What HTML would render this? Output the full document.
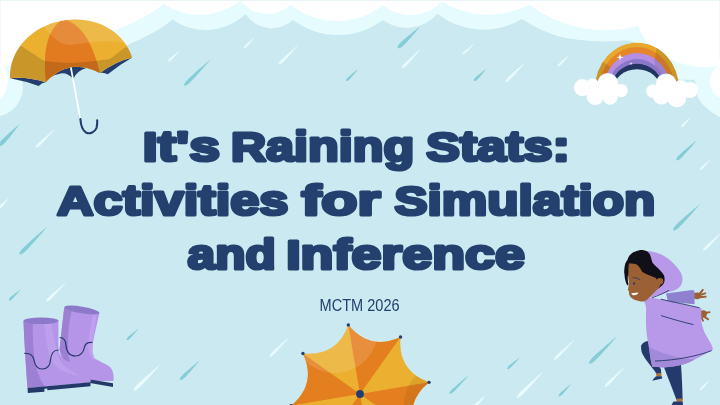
<!DOCTYPE html>
<html><head><meta charset="utf-8">
<style>
html,body{margin:0;padding:0;}
body{width:720px;height:405px;overflow:hidden;position:relative;background:#cbe9f0;font-family:"Liberation Sans",sans-serif;}
svg.bg{position:absolute;left:0;top:0;}
</style></head><body>
<svg class="bg" width="720" height="405" viewBox="0 0 720 405">
<path fill="#e8fbfd" d="M168.21 61.56 L169.16 61.61 L169.79 61.32 L170.35 60.96 L170.87 60.55 L171.36 60.11 L171.82 59.64 L172.27 59.17 L172.72 58.69 L173.17 58.21 L173.61 57.72 L174.05 57.24 L174.49 56.75 L174.93 56.26 L175.37 55.76 L175.80 55.27 L176.23 54.77 L176.66 54.27 L177.09 53.77 L177.52 53.27 L177.95 52.77 L178.37 52.26 L178.79 51.76 L179.22 51.25 L179.64 50.74 L179.56 50.66 L179.03 51.06 L178.51 51.45 L177.98 51.85 L177.46 52.26 L176.94 52.66 L176.41 53.06 L175.90 53.47 L175.38 53.87 L174.86 54.28 L174.34 54.69 L173.83 55.10 L173.32 55.52 L172.81 55.93 L172.30 56.35 L171.80 56.77 L171.30 57.19 L170.80 57.62 L170.30 58.05 L169.81 58.49 L169.35 58.95 L168.92 59.45 L168.53 60.00 L168.22 60.62 L168.21 61.56 Z"/>
<path fill="#84cdd6" d="M184.02 85.77 L185.90 85.48 L187.25 84.65 L188.48 83.72 L189.65 82.71 L190.76 81.65 L191.83 80.54 L192.88 79.43 L193.93 78.30 L194.98 77.18 L196.02 76.04 L197.05 74.91 L198.09 73.77 L199.11 72.62 L200.14 71.47 L201.16 70.32 L202.18 69.17 L203.20 68.02 L204.22 66.86 L205.23 65.70 L206.24 64.54 L207.25 63.37 L208.26 62.20 L209.26 61.04 L210.26 59.86 L210.14 59.74 L208.96 60.73 L207.78 61.72 L206.61 62.72 L205.43 63.72 L204.26 64.72 L203.10 65.73 L201.93 66.73 L200.77 67.74 L199.60 68.75 L198.45 69.77 L197.29 70.78 L196.14 71.80 L194.99 72.83 L193.84 73.85 L192.70 74.88 L191.57 75.92 L190.44 76.96 L189.31 78.01 L188.20 79.07 L187.12 80.17 L186.11 81.33 L185.16 82.56 L184.33 83.90 L184.02 85.77 Z"/>
<path fill="#84cdd6" d="M-0.86 145.92 L0.92 145.90 L2.07 145.28 L3.09 144.55 L4.03 143.73 L4.89 142.85 L5.71 141.92 L6.51 140.98 L7.31 140.04 L8.10 139.09 L8.88 138.13 L9.66 137.17 L10.43 136.20 L11.20 135.23 L11.97 134.26 L12.73 133.28 L13.49 132.30 L14.25 131.32 L15.01 130.33 L15.76 129.35 L16.51 128.36 L17.25 127.36 L18.00 126.37 L18.74 125.37 L19.48 124.37 L19.32 124.23 L18.37 125.03 L17.43 125.84 L16.48 126.64 L15.54 127.45 L14.60 128.26 L13.66 129.08 L12.73 129.89 L11.80 130.71 L10.87 131.53 L9.95 132.36 L9.02 133.19 L8.11 134.02 L7.19 134.85 L6.28 135.69 L5.38 136.54 L4.48 137.39 L3.59 138.24 L2.70 139.11 L1.83 139.98 L1.00 140.90 L0.25 141.89 L-0.42 142.95 L-0.95 144.14 L-0.86 145.92 Z"/>
<path fill="#e8fbfd" d="M35.70 147.69 L37.11 147.51 L38.12 146.92 L39.04 146.24 L39.91 145.51 L40.74 144.73 L41.53 143.92 L42.32 143.11 L43.10 142.28 L43.88 141.46 L44.65 140.63 L45.42 139.79 L46.19 138.95 L46.96 138.12 L47.72 137.27 L48.48 136.43 L49.24 135.58 L50.00 134.74 L50.75 133.89 L51.51 133.03 L52.26 132.18 L53.01 131.33 L53.76 130.47 L54.50 129.61 L55.25 128.75 L55.15 128.65 L54.27 129.37 L53.39 130.10 L52.52 130.82 L51.64 131.55 L50.77 132.28 L49.90 133.01 L49.03 133.74 L48.16 134.47 L47.29 135.21 L46.43 135.95 L45.57 136.69 L44.71 137.43 L43.85 138.18 L43.00 138.93 L42.15 139.68 L41.30 140.43 L40.45 141.19 L39.62 141.96 L38.79 142.73 L37.99 143.53 L37.23 144.38 L36.53 145.29 L35.91 146.28 L35.70 147.69 Z"/>
<path fill="#e8fbfd" d="M-2.60 209.59 L-1.51 209.72 L-0.83 209.44 L-0.23 209.08 L0.32 208.66 L0.82 208.19 L1.29 207.70 L1.75 207.19 L2.21 206.68 L2.66 206.17 L3.11 205.65 L3.55 205.13 L4.00 204.60 L4.44 204.08 L4.87 203.55 L5.31 203.02 L5.74 202.48 L6.17 201.95 L6.60 201.41 L7.03 200.87 L7.46 200.33 L7.88 199.79 L8.31 199.24 L8.73 198.70 L9.15 198.15 L9.05 198.05 L8.50 198.46 L7.94 198.87 L7.39 199.29 L6.84 199.70 L6.29 200.12 L5.75 200.53 L5.20 200.95 L4.66 201.38 L4.12 201.80 L3.58 202.23 L3.04 202.66 L2.51 203.09 L1.97 203.52 L1.44 203.96 L0.92 204.39 L0.40 204.84 L-0.12 205.28 L-0.64 205.74 L-1.14 206.20 L-1.62 206.69 L-2.05 207.23 L-2.42 207.82 L-2.71 208.50 L-2.60 209.59 Z"/>
<path fill="#84cdd6" d="M19.37 254.53 L21.35 254.24 L22.77 253.38 L24.07 252.40 L25.29 251.34 L26.45 250.22 L27.56 249.06 L28.66 247.88 L29.76 246.70 L30.85 245.51 L31.93 244.32 L33.01 243.12 L34.09 241.92 L35.16 240.71 L36.23 239.50 L37.29 238.29 L38.36 237.08 L39.42 235.86 L40.47 234.64 L41.53 233.42 L42.58 232.19 L43.63 230.96 L44.68 229.73 L45.73 228.50 L46.77 227.27 L46.63 227.13 L45.40 228.17 L44.17 229.22 L42.94 230.27 L41.71 231.32 L40.48 232.37 L39.26 233.43 L38.04 234.48 L36.82 235.54 L35.61 236.61 L34.40 237.67 L33.19 238.74 L31.98 239.81 L30.78 240.89 L29.58 241.97 L28.39 243.05 L27.20 244.14 L26.02 245.24 L24.84 246.34 L23.68 247.45 L22.56 248.61 L21.50 249.83 L20.52 251.13 L19.66 252.55 L19.37 254.53 Z"/>
<path fill="#84cdd6" d="M9.05 300.32 L10.06 300.42 L10.72 300.15 L11.30 299.80 L11.84 299.40 L12.34 298.96 L12.81 298.49 L13.27 298.01 L13.73 297.53 L14.18 297.04 L14.63 296.55 L15.08 296.05 L15.53 295.56 L15.97 295.06 L16.41 294.56 L16.85 294.05 L17.29 293.55 L17.73 293.04 L18.16 292.53 L18.60 292.02 L19.03 291.51 L19.46 291.00 L19.89 290.48 L20.32 289.96 L20.74 289.45 L20.66 289.35 L20.11 289.75 L19.57 290.14 L19.03 290.53 L18.49 290.93 L17.95 291.33 L17.41 291.73 L16.87 292.13 L16.34 292.53 L15.81 292.93 L15.28 293.34 L14.75 293.75 L14.22 294.16 L13.70 294.57 L13.17 294.99 L12.65 295.41 L12.14 295.83 L11.62 296.26 L11.12 296.69 L10.62 297.12 L10.14 297.59 L9.71 298.10 L9.32 298.66 L9.01 299.30 L9.05 300.32 Z"/>
<path fill="#e8fbfd" d="M46.10 301.68 L47.52 301.50 L48.55 300.89 L49.50 300.21 L50.39 299.46 L51.23 298.67 L52.05 297.85 L52.86 297.02 L53.66 296.19 L54.46 295.35 L55.25 294.50 L56.05 293.66 L56.84 292.81 L57.62 291.95 L58.41 291.10 L59.19 290.24 L59.97 289.39 L60.75 288.52 L61.52 287.66 L62.30 286.80 L63.07 285.93 L63.84 285.06 L64.61 284.19 L65.38 283.32 L66.15 282.45 L66.05 282.35 L65.15 283.08 L64.25 283.82 L63.36 284.56 L62.46 285.30 L61.57 286.04 L60.67 286.78 L59.78 287.52 L58.89 288.27 L58.01 289.02 L57.12 289.77 L56.24 290.52 L55.36 291.28 L54.48 292.03 L53.61 292.79 L52.74 293.56 L51.87 294.33 L51.00 295.10 L50.14 295.87 L49.29 296.66 L48.47 297.48 L47.70 298.34 L46.97 299.26 L46.34 300.26 L46.10 301.68 Z"/>
<path fill="#84cdd6" d="M126.76 340.03 L127.78 340.11 L128.43 339.82 L129.01 339.46 L129.54 339.04 L130.02 338.59 L130.49 338.10 L130.94 337.61 L131.39 337.12 L131.83 336.62 L132.27 336.11 L132.71 335.61 L133.15 335.10 L133.58 334.59 L134.02 334.07 L134.45 333.56 L134.88 333.04 L135.30 332.52 L135.73 332.00 L136.15 331.48 L136.57 330.95 L136.99 330.43 L137.41 329.90 L137.83 329.37 L138.24 328.84 L138.16 328.76 L137.62 329.16 L137.08 329.57 L136.55 329.98 L136.02 330.39 L135.48 330.80 L134.95 331.21 L134.43 331.63 L133.90 332.05 L133.37 332.46 L132.85 332.88 L132.33 333.31 L131.81 333.73 L131.29 334.16 L130.78 334.59 L130.27 335.02 L129.76 335.46 L129.25 335.90 L128.75 336.34 L128.26 336.79 L127.80 337.27 L127.37 337.79 L127.00 338.36 L126.70 339.01 L126.76 340.03 Z"/>
<path fill="#e8fbfd" d="M133.52 390.76 L135.42 390.46 L136.80 389.61 L138.07 388.66 L139.27 387.64 L140.41 386.55 L141.51 385.42 L142.61 384.29 L143.69 383.14 L144.77 381.99 L145.84 380.84 L146.91 379.68 L147.98 378.52 L149.04 377.35 L150.10 376.19 L151.16 375.01 L152.21 373.84 L153.26 372.66 L154.31 371.48 L155.36 370.30 L156.40 369.12 L157.45 367.93 L158.49 366.75 L159.53 365.56 L160.56 364.36 L160.44 364.24 L159.22 365.25 L158.02 366.26 L156.81 367.28 L155.60 368.30 L154.40 369.32 L153.20 370.35 L152.00 371.37 L150.80 372.40 L149.61 373.43 L148.42 374.47 L147.23 375.51 L146.04 376.55 L144.86 377.59 L143.68 378.64 L142.51 379.69 L141.34 380.74 L140.17 381.81 L139.02 382.87 L137.87 383.95 L136.76 385.07 L135.71 386.25 L134.73 387.50 L133.87 388.87 L133.52 390.76 Z"/>
<path fill="#84cdd6" d="M179.79 380.21 L181.33 380.12 L182.39 379.53 L183.35 378.85 L184.24 378.10 L185.08 377.29 L185.88 376.45 L186.67 375.60 L187.45 374.74 L188.23 373.87 L189.01 373.01 L189.78 372.13 L190.55 371.26 L191.31 370.38 L192.07 369.50 L192.83 368.61 L193.59 367.73 L194.34 366.84 L195.09 365.95 L195.84 365.05 L196.59 364.16 L197.33 363.26 L198.08 362.36 L198.82 361.46 L199.56 360.56 L199.44 360.44 L198.54 361.18 L197.64 361.92 L196.74 362.67 L195.84 363.41 L194.95 364.16 L194.05 364.91 L193.16 365.66 L192.27 366.41 L191.39 367.17 L190.50 367.93 L189.62 368.69 L188.74 369.45 L187.87 370.22 L186.99 370.99 L186.13 371.77 L185.26 372.55 L184.40 373.33 L183.55 374.12 L182.71 374.92 L181.90 375.76 L181.15 376.65 L180.47 377.61 L179.88 378.67 L179.79 380.21 Z"/>
<path fill="#e8fbfd" d="M269.41 356.89 L270.84 356.67 L271.87 356.04 L272.81 355.32 L273.70 354.55 L274.54 353.74 L275.35 352.89 L276.15 352.04 L276.95 351.18 L277.74 350.31 L278.53 349.44 L279.32 348.57 L280.10 347.70 L280.89 346.82 L281.67 345.94 L282.44 345.06 L283.22 344.18 L283.99 343.29 L284.76 342.41 L285.53 341.52 L286.30 340.63 L287.06 339.74 L287.83 338.84 L288.59 337.95 L289.35 337.05 L289.25 336.95 L288.35 337.71 L287.46 338.47 L286.56 339.24 L285.67 340.00 L284.78 340.77 L283.89 341.54 L283.01 342.31 L282.12 343.08 L281.24 343.86 L280.36 344.63 L279.48 345.41 L278.60 346.20 L277.73 346.98 L276.86 347.77 L275.99 348.56 L275.12 349.35 L274.26 350.15 L273.41 350.95 L272.56 351.76 L271.75 352.60 L270.98 353.49 L270.26 354.43 L269.63 355.46 L269.41 356.89 Z"/>
<path fill="#e8fbfd" d="M243.86 48.25 L244.76 48.25 L245.36 47.94 L245.89 47.58 L246.38 47.17 L246.84 46.73 L247.27 46.26 L247.70 45.79 L248.13 45.31 L248.55 44.84 L248.97 44.35 L249.38 43.87 L249.79 43.38 L250.21 42.90 L250.62 42.41 L251.02 41.92 L251.43 41.42 L251.84 40.93 L252.24 40.44 L252.64 39.94 L253.04 39.44 L253.44 38.94 L253.84 38.44 L254.24 37.94 L254.64 37.44 L254.56 37.36 L254.06 37.76 L253.57 38.17 L253.07 38.57 L252.57 38.98 L252.08 39.38 L251.59 39.79 L251.10 40.20 L250.61 40.61 L250.12 41.02 L249.63 41.43 L249.15 41.85 L248.66 42.26 L248.18 42.68 L247.70 43.10 L247.22 43.52 L246.75 43.95 L246.28 44.38 L245.81 44.81 L245.35 45.25 L244.91 45.71 L244.51 46.21 L244.15 46.74 L243.85 47.34 L243.86 48.25 Z"/>
<path fill="#e8fbfd" d="M278.60 64.49 L280.02 64.30 L281.03 63.69 L281.96 63.00 L282.84 62.26 L283.66 61.47 L284.46 60.65 L285.25 59.82 L286.04 58.98 L286.82 58.14 L287.60 57.30 L288.37 56.45 L289.15 55.60 L289.92 54.75 L290.68 53.90 L291.45 53.04 L292.21 52.18 L292.97 51.32 L293.73 50.46 L294.49 49.60 L295.24 48.73 L296.00 47.86 L296.75 46.99 L297.50 46.12 L298.25 45.25 L298.15 45.15 L297.27 45.89 L296.38 46.62 L295.50 47.36 L294.62 48.10 L293.75 48.84 L292.87 49.59 L292.00 50.33 L291.12 51.08 L290.25 51.83 L289.38 52.58 L288.52 53.33 L287.65 54.09 L286.79 54.85 L285.94 55.61 L285.08 56.37 L284.23 57.14 L283.38 57.91 L282.54 58.69 L281.70 59.47 L280.90 60.29 L280.14 61.15 L279.44 62.07 L278.82 63.08 L278.60 64.49 Z"/>
<path fill="#84cdd6" d="M397.79 48.07 L399.58 48.13 L400.77 47.57 L401.84 46.88 L402.83 46.10 L403.75 45.26 L404.62 44.36 L405.48 43.46 L406.34 42.55 L407.19 41.63 L408.03 40.70 L408.87 39.77 L409.70 38.84 L410.53 37.90 L411.36 36.96 L412.18 36.01 L413.00 35.06 L413.82 34.11 L414.64 33.16 L415.45 32.20 L416.26 31.24 L417.06 30.28 L417.87 29.31 L418.67 28.35 L419.47 27.38 L419.33 27.22 L418.33 27.99 L417.33 28.75 L416.33 29.52 L415.34 30.29 L414.35 31.06 L413.36 31.83 L412.37 32.61 L411.39 33.39 L410.41 34.17 L409.43 34.96 L408.46 35.74 L407.49 36.54 L406.52 37.33 L405.56 38.13 L404.60 38.94 L403.65 39.75 L402.71 40.57 L401.77 41.40 L400.84 42.23 L399.96 43.12 L399.14 44.07 L398.41 45.11 L397.80 46.28 L397.79 48.07 Z"/>
<path fill="#e8fbfd" d="M401.51 68.60 L402.94 68.36 L403.97 67.72 L404.90 67.00 L405.78 66.22 L406.61 65.39 L407.41 64.54 L408.21 63.67 L409.00 62.80 L409.78 61.93 L410.56 61.06 L411.34 60.18 L412.12 59.29 L412.89 58.41 L413.66 57.52 L414.43 56.63 L415.19 55.74 L415.95 54.85 L416.72 53.95 L417.48 53.06 L418.23 52.16 L418.99 51.26 L419.74 50.36 L420.50 49.45 L421.25 48.55 L421.15 48.45 L420.26 49.22 L419.37 49.99 L418.49 50.77 L417.60 51.54 L416.72 52.32 L415.84 53.10 L414.96 53.88 L414.08 54.66 L413.21 55.44 L412.34 56.23 L411.47 57.02 L410.60 57.81 L409.73 58.60 L408.87 59.39 L408.01 60.19 L407.15 61.00 L406.30 61.80 L405.45 62.61 L404.62 63.43 L403.81 64.28 L403.05 65.18 L402.34 66.13 L401.72 67.16 L401.51 68.60 Z"/>
<path fill="#84cdd6" d="M346.27 80.93 L347.30 80.99 L347.97 80.68 L348.56 80.29 L349.10 79.86 L349.60 79.38 L350.07 78.87 L350.54 78.36 L351.00 77.85 L351.46 77.32 L351.91 76.80 L352.36 76.27 L352.81 75.74 L353.26 75.21 L353.70 74.68 L354.14 74.14 L354.58 73.60 L355.02 73.06 L355.46 72.52 L355.89 71.98 L356.32 71.44 L356.76 70.89 L357.19 70.34 L357.62 69.79 L358.04 69.24 L357.96 69.16 L357.41 69.58 L356.86 70.01 L356.31 70.44 L355.76 70.88 L355.22 71.31 L354.68 71.74 L354.14 72.18 L353.60 72.62 L353.06 73.06 L352.52 73.50 L351.99 73.94 L351.46 74.39 L350.93 74.84 L350.40 75.29 L349.88 75.74 L349.35 76.20 L348.84 76.66 L348.33 77.13 L347.82 77.60 L347.34 78.10 L346.91 78.64 L346.52 79.23 L346.21 79.90 L346.27 80.93 Z"/>
<path fill="#e8fbfd" d="M462.84 54.13 L463.76 54.15 L464.39 53.85 L464.96 53.49 L465.49 53.08 L465.98 52.64 L466.45 52.18 L466.92 51.70 L467.38 51.23 L467.85 50.75 L468.30 50.27 L468.76 49.78 L469.21 49.30 L469.66 48.81 L470.11 48.32 L470.56 47.83 L471.01 47.34 L471.45 46.84 L471.90 46.34 L472.34 45.85 L472.78 45.35 L473.22 44.85 L473.66 44.35 L474.10 43.84 L474.54 43.34 L474.46 43.26 L473.93 43.66 L473.40 44.06 L472.86 44.46 L472.33 44.86 L471.80 45.27 L471.27 45.67 L470.74 46.08 L470.22 46.48 L469.69 46.89 L469.17 47.30 L468.65 47.72 L468.13 48.13 L467.61 48.55 L467.09 48.96 L466.58 49.39 L466.07 49.81 L465.56 50.24 L465.05 50.67 L464.55 51.10 L464.08 51.57 L463.63 52.06 L463.23 52.60 L462.89 53.21 L462.84 54.13 Z"/>
<path fill="#84cdd6" d="M473.90 80.99 L475.00 81.11 L475.70 80.82 L476.31 80.44 L476.87 80.01 L477.38 79.53 L477.86 79.02 L478.34 78.50 L478.81 77.98 L479.27 77.45 L479.73 76.92 L480.19 76.39 L480.65 75.85 L481.10 75.31 L481.55 74.77 L482.00 74.23 L482.44 73.68 L482.89 73.13 L483.33 72.58 L483.77 72.03 L484.21 71.48 L484.65 70.92 L485.08 70.37 L485.52 69.81 L485.95 69.25 L485.85 69.15 L485.28 69.57 L484.72 70.00 L484.15 70.42 L483.59 70.85 L483.03 71.28 L482.47 71.71 L481.91 72.14 L481.36 72.58 L480.80 73.01 L480.25 73.45 L479.70 73.89 L479.16 74.34 L478.61 74.78 L478.07 75.23 L477.53 75.68 L477.00 76.14 L476.46 76.60 L475.94 77.06 L475.42 77.54 L474.93 78.04 L474.49 78.59 L474.10 79.20 L473.80 79.89 L473.90 80.99 Z"/>
<path fill="#e8fbfd" d="M505.50 81.99 L506.94 81.77 L507.97 81.15 L508.92 80.44 L509.81 79.67 L510.65 78.86 L511.47 78.02 L512.28 77.17 L513.08 76.31 L513.88 75.45 L514.67 74.59 L515.46 73.72 L516.25 72.85 L517.04 71.98 L517.82 71.10 L518.60 70.23 L519.38 69.35 L520.16 68.47 L520.93 67.58 L521.71 66.70 L522.48 65.81 L523.25 64.92 L524.02 64.03 L524.78 63.14 L525.55 62.25 L525.45 62.15 L524.55 62.91 L523.65 63.66 L522.75 64.42 L521.86 65.19 L520.96 65.95 L520.07 66.71 L519.18 67.48 L518.29 68.25 L517.40 69.02 L516.52 69.79 L515.63 70.56 L514.75 71.34 L513.88 72.12 L513.00 72.90 L512.13 73.69 L511.26 74.48 L510.40 75.27 L509.54 76.07 L508.69 76.87 L507.86 77.71 L507.09 78.59 L506.37 79.53 L505.73 80.56 L505.50 81.99 Z"/>
<path fill="#e8fbfd" d="M557.65 66.34 L558.59 66.31 L559.24 65.98 L559.83 65.58 L560.37 65.14 L560.89 64.67 L561.38 64.17 L561.86 63.66 L562.34 63.16 L562.81 62.64 L563.29 62.13 L563.76 61.61 L564.23 61.09 L564.69 60.57 L565.16 60.05 L565.62 59.52 L566.09 59.00 L566.55 58.47 L567.01 57.94 L567.46 57.41 L567.92 56.88 L568.38 56.34 L568.83 55.81 L569.28 55.27 L569.74 54.74 L569.66 54.66 L569.11 55.10 L568.56 55.53 L568.01 55.97 L567.46 56.40 L566.91 56.84 L566.37 57.28 L565.82 57.72 L565.28 58.16 L564.74 58.60 L564.20 59.05 L563.66 59.50 L563.12 59.95 L562.58 60.40 L562.05 60.85 L561.52 61.30 L560.99 61.76 L560.47 62.22 L559.95 62.69 L559.43 63.16 L558.94 63.65 L558.48 64.18 L558.06 64.75 L557.70 65.39 L557.65 66.34 Z"/>
<path fill="#e8fbfd" d="M681.16 127.15 L682.04 127.17 L682.61 126.88 L683.12 126.54 L683.58 126.15 L684.01 125.73 L684.41 125.28 L684.81 124.83 L685.20 124.38 L685.59 123.92 L685.98 123.46 L686.37 123.00 L686.75 122.53 L687.14 122.06 L687.52 121.60 L687.89 121.13 L688.27 120.66 L688.65 120.18 L689.02 119.71 L689.39 119.23 L689.76 118.76 L690.13 118.28 L690.50 117.80 L690.87 117.32 L691.24 116.84 L691.16 116.76 L690.69 117.14 L690.22 117.53 L689.76 117.91 L689.29 118.30 L688.82 118.68 L688.36 119.07 L687.90 119.46 L687.44 119.85 L686.98 120.24 L686.52 120.63 L686.06 121.02 L685.61 121.42 L685.16 121.82 L684.71 122.22 L684.26 122.62 L683.81 123.03 L683.37 123.44 L682.93 123.85 L682.50 124.27 L682.09 124.71 L681.72 125.18 L681.39 125.70 L681.12 126.27 L681.16 127.15 Z"/>
<path fill="#84cdd6" d="M676.25 160.33 L677.83 160.28 L678.92 159.71 L679.90 159.04 L680.81 158.30 L681.67 157.49 L682.48 156.65 L683.29 155.80 L684.09 154.95 L684.89 154.08 L685.68 153.21 L686.47 152.34 L687.25 151.47 L688.03 150.59 L688.81 149.71 L689.59 148.82 L690.36 147.94 L691.13 147.05 L691.90 146.16 L692.66 145.26 L693.43 144.37 L694.19 143.47 L694.95 142.57 L695.71 141.67 L696.46 140.76 L696.34 140.64 L695.42 141.37 L694.49 142.10 L693.57 142.84 L692.66 143.58 L691.74 144.32 L690.83 145.06 L689.92 145.80 L689.01 146.55 L688.10 147.30 L687.20 148.05 L686.29 148.81 L685.40 149.56 L684.50 150.33 L683.61 151.09 L682.72 151.86 L681.84 152.63 L680.96 153.41 L680.09 154.20 L679.23 154.99 L678.40 155.82 L677.63 156.72 L676.94 157.68 L676.34 158.75 L676.25 160.33 Z"/>
<path fill="#e8fbfd" d="M699.85 169.94 L700.76 169.95 L701.37 169.65 L701.91 169.28 L702.42 168.87 L702.89 168.43 L703.33 167.97 L703.77 167.49 L704.21 167.02 L704.65 166.54 L705.08 166.06 L705.51 165.58 L705.93 165.09 L706.36 164.60 L706.78 164.11 L707.20 163.62 L707.62 163.13 L708.04 162.63 L708.46 162.14 L708.88 161.64 L709.29 161.14 L709.70 160.64 L710.12 160.14 L710.53 159.64 L710.94 159.14 L710.86 159.06 L710.35 159.46 L709.84 159.86 L709.33 160.27 L708.83 160.67 L708.32 161.08 L707.82 161.48 L707.31 161.89 L706.81 162.30 L706.31 162.71 L705.81 163.12 L705.31 163.54 L704.82 163.95 L704.32 164.37 L703.83 164.79 L703.34 165.21 L702.86 165.64 L702.37 166.06 L701.89 166.50 L701.42 166.93 L700.97 167.40 L700.55 167.89 L700.17 168.43 L699.86 169.03 L699.85 169.94 Z"/>
<path fill="#84cdd6" d="M673.06 230.52 L675.01 230.29 L676.40 229.47 L677.68 228.54 L678.87 227.53 L680.00 226.46 L681.09 225.34 L682.17 224.21 L683.24 223.07 L684.30 221.93 L685.36 220.78 L686.42 219.63 L687.47 218.47 L688.52 217.31 L689.57 216.15 L690.61 214.98 L691.65 213.82 L692.68 212.64 L693.72 211.47 L694.75 210.29 L695.78 209.11 L696.80 207.93 L697.83 206.74 L698.85 205.56 L699.87 204.37 L699.73 204.23 L698.52 205.23 L697.32 206.23 L696.11 207.23 L694.91 208.23 L693.71 209.24 L692.51 210.24 L691.32 211.25 L690.13 212.27 L688.94 213.28 L687.75 214.30 L686.57 215.32 L685.39 216.35 L684.21 217.38 L683.04 218.41 L681.87 219.45 L680.71 220.49 L679.55 221.54 L678.40 222.60 L677.26 223.66 L676.16 224.77 L675.13 225.95 L674.17 227.20 L673.34 228.58 L673.06 230.52 Z"/>
<path fill="#e8fbfd" d="M703.10 250.69 L704.49 250.52 L705.47 249.95 L706.37 249.29 L707.22 248.58 L708.02 247.81 L708.79 247.02 L709.55 246.22 L710.31 245.41 L711.06 244.60 L711.81 243.79 L712.55 242.97 L713.30 242.15 L714.04 241.33 L714.77 240.51 L715.51 239.68 L716.24 238.85 L716.98 238.02 L717.71 237.18 L718.43 236.35 L719.16 235.51 L719.88 234.67 L720.61 233.83 L721.33 232.99 L722.05 232.15 L721.95 232.05 L721.10 232.76 L720.24 233.46 L719.39 234.17 L718.54 234.88 L717.69 235.60 L716.85 236.31 L716.00 237.03 L715.16 237.74 L714.32 238.46 L713.48 239.19 L712.64 239.91 L711.81 240.64 L710.97 241.37 L710.14 242.10 L709.32 242.83 L708.49 243.57 L707.68 244.31 L706.86 245.06 L706.06 245.82 L705.28 246.61 L704.55 247.44 L703.88 248.33 L703.29 249.30 L703.10 250.69 Z"/>
<path fill="#e8fbfd" d="M554.00 359.89 L555.44 359.67 L556.47 359.05 L557.42 358.34 L558.32 357.57 L559.17 356.76 L559.99 355.92 L560.80 355.07 L561.61 354.21 L562.41 353.35 L563.21 352.49 L564.00 351.62 L564.80 350.75 L565.59 349.88 L566.37 349.00 L567.16 348.13 L567.94 347.25 L568.73 346.37 L569.51 345.48 L570.28 344.60 L571.06 343.71 L571.83 342.82 L572.61 341.93 L573.38 341.04 L574.15 340.15 L574.05 340.05 L573.15 340.81 L572.24 341.56 L571.34 342.32 L570.44 343.08 L569.54 343.85 L568.65 344.61 L567.75 345.38 L566.86 346.14 L565.97 346.91 L565.08 347.69 L564.19 348.46 L563.30 349.24 L562.42 350.02 L561.54 350.80 L560.67 351.58 L559.79 352.37 L558.93 353.17 L558.06 353.96 L557.21 354.77 L556.38 355.61 L555.60 356.49 L554.88 357.43 L554.24 358.46 L554.00 359.89 Z"/>
<path fill="#84cdd6" d="M507.24 369.01 L508.28 369.11 L508.96 368.82 L509.57 368.46 L510.13 368.04 L510.65 367.58 L511.15 367.09 L511.63 366.60 L512.12 366.10 L512.60 365.59 L513.08 365.08 L513.55 364.57 L514.02 364.06 L514.49 363.54 L514.96 363.03 L515.42 362.51 L515.89 361.98 L516.35 361.46 L516.81 360.93 L517.27 360.41 L517.73 359.88 L518.18 359.35 L518.64 358.81 L519.09 358.28 L519.54 357.75 L519.46 357.65 L518.89 358.06 L518.32 358.47 L517.75 358.88 L517.19 359.29 L516.62 359.71 L516.06 360.12 L515.50 360.54 L514.94 360.96 L514.38 361.38 L513.83 361.80 L513.27 362.23 L512.72 362.65 L512.17 363.08 L511.63 363.51 L511.08 363.95 L510.54 364.39 L510.00 364.83 L509.47 365.28 L508.94 365.73 L508.44 366.21 L507.98 366.74 L507.57 367.32 L507.23 367.98 L507.24 369.01 Z"/>
<path fill="#e8fbfd" d="M516.86 397.94 L518.71 397.60 L520.06 396.75 L521.30 395.80 L522.47 394.77 L523.58 393.69 L524.66 392.57 L525.72 391.44 L526.78 390.30 L527.83 389.16 L528.88 388.02 L529.93 386.86 L530.97 385.71 L532.01 384.55 L533.04 383.39 L534.07 382.23 L535.10 381.07 L536.13 379.90 L537.16 378.73 L538.18 377.55 L539.20 376.38 L540.22 375.20 L541.23 374.02 L542.25 372.84 L543.26 371.66 L543.14 371.54 L541.96 372.55 L540.78 373.57 L539.60 374.58 L538.42 375.60 L537.25 376.62 L536.07 377.64 L534.90 378.67 L533.73 379.70 L532.57 380.73 L531.41 381.76 L530.25 382.79 L529.09 383.83 L527.94 384.87 L526.78 385.92 L525.64 386.97 L524.50 388.02 L523.36 389.08 L522.23 390.14 L521.11 391.22 L520.03 392.33 L519.00 393.50 L518.05 394.74 L517.20 396.09 L516.86 397.94 Z"/>
<path fill="#84cdd6" d="M558.77 396.23 L559.82 396.27 L560.51 395.94 L561.12 395.53 L561.68 395.07 L562.20 394.58 L562.70 394.05 L563.18 393.52 L563.67 392.98 L564.14 392.44 L564.62 391.89 L565.09 391.34 L565.56 390.79 L566.03 390.24 L566.49 389.69 L566.95 389.13 L567.41 388.57 L567.87 388.01 L568.33 387.45 L568.79 386.88 L569.24 386.32 L569.69 385.75 L570.15 385.18 L570.60 384.62 L571.04 384.04 L570.96 383.96 L570.38 384.40 L569.82 384.85 L569.25 385.31 L568.68 385.76 L568.12 386.21 L567.55 386.67 L566.99 387.13 L566.43 387.59 L565.87 388.05 L565.31 388.51 L564.76 388.97 L564.21 389.44 L563.66 389.91 L563.11 390.38 L562.56 390.86 L562.02 391.33 L561.48 391.82 L560.95 392.30 L560.42 392.80 L559.93 393.32 L559.47 393.88 L559.06 394.49 L558.73 395.18 L558.77 396.23 Z"/>
<path fill="#84cdd6" d="M588.96 363.82 L590.95 363.55 L592.37 362.71 L593.68 361.74 L594.90 360.70 L596.07 359.59 L597.19 358.44 L598.30 357.28 L599.41 356.11 L600.51 354.93 L601.60 353.75 L602.69 352.56 L603.77 351.37 L604.85 350.18 L605.93 348.98 L607.01 347.78 L608.08 346.58 L609.15 345.38 L610.22 344.17 L611.28 342.96 L612.34 341.74 L613.40 340.53 L614.46 339.31 L615.52 338.09 L616.57 336.87 L616.43 336.73 L615.19 337.76 L613.95 338.79 L612.71 339.83 L611.48 340.86 L610.24 341.90 L609.01 342.94 L607.79 343.99 L606.56 345.03 L605.34 346.08 L604.12 347.14 L602.90 348.19 L601.69 349.25 L600.48 350.31 L599.27 351.38 L598.07 352.45 L596.87 353.52 L595.68 354.61 L594.50 355.70 L593.33 356.80 L592.20 357.94 L591.13 359.15 L590.14 360.44 L589.27 361.84 L588.96 363.82 Z"/>
<path fill="#e8fbfd" d="M604.81 386.89 L606.22 386.69 L607.23 386.07 L608.16 385.37 L609.03 384.62 L609.86 383.82 L610.65 382.99 L611.44 382.15 L612.22 381.31 L612.99 380.46 L613.77 379.61 L614.54 378.76 L615.30 377.90 L616.07 377.04 L616.83 376.18 L617.59 375.31 L618.35 374.45 L619.11 373.58 L619.86 372.71 L620.61 371.83 L621.36 370.96 L622.11 370.09 L622.86 369.21 L623.61 368.33 L624.35 367.45 L624.25 367.35 L623.37 368.09 L622.49 368.84 L621.61 369.59 L620.74 370.34 L619.87 371.09 L618.99 371.84 L618.12 372.59 L617.25 373.35 L616.39 374.11 L615.52 374.87 L614.66 375.63 L613.80 376.40 L612.94 377.16 L612.09 377.93 L611.24 378.71 L610.39 379.48 L609.55 380.26 L608.71 381.05 L607.88 381.84 L607.08 382.67 L606.33 383.54 L605.63 384.47 L605.01 385.48 L604.81 386.89 Z"/>
<path fill="#e8fbfd" d="M699.85 390.05 L700.73 390.08 L701.29 389.81 L701.80 389.48 L702.26 389.10 L702.69 388.69 L703.09 388.26 L703.49 387.82 L703.89 387.38 L704.28 386.94 L704.67 386.49 L705.06 386.04 L705.44 385.59 L705.82 385.13 L706.21 384.68 L706.58 384.22 L706.96 383.76 L707.34 383.30 L707.71 382.84 L708.09 382.37 L708.46 381.91 L708.83 381.44 L709.20 380.97 L709.57 380.51 L709.94 380.04 L709.86 379.96 L709.39 380.33 L708.93 380.70 L708.46 381.07 L707.99 381.44 L707.53 381.81 L707.06 382.19 L706.60 382.56 L706.14 382.94 L705.68 383.32 L705.22 383.69 L704.77 384.08 L704.31 384.46 L703.86 384.84 L703.41 385.23 L702.96 385.62 L702.52 386.01 L702.08 386.41 L701.64 386.81 L701.21 387.21 L700.80 387.64 L700.42 388.10 L700.09 388.61 L699.82 389.17 L699.85 390.05 Z"/>
<path fill="#84cdd6" d="M449.39 393.88 L450.81 393.71 L451.82 393.13 L452.75 392.46 L453.62 391.73 L454.45 390.96 L455.25 390.15 L456.04 389.34 L456.83 388.52 L457.61 387.70 L458.39 386.87 L459.16 386.04 L459.93 385.21 L460.71 384.37 L461.47 383.53 L462.24 382.69 L463.00 381.85 L463.76 381.01 L464.52 380.16 L465.28 379.31 L466.04 378.46 L466.79 377.61 L467.55 376.76 L468.30 375.91 L469.05 375.05 L468.95 374.95 L468.07 375.67 L467.19 376.39 L466.31 377.11 L465.43 377.83 L464.55 378.55 L463.67 379.28 L462.80 380.01 L461.93 380.74 L461.06 381.47 L460.19 382.20 L459.32 382.94 L458.46 383.68 L457.60 384.42 L456.74 385.16 L455.89 385.91 L455.03 386.66 L454.19 387.41 L453.34 388.17 L452.51 388.94 L451.70 389.74 L450.95 390.59 L450.24 391.49 L449.62 392.48 L449.39 393.88 Z"/>
<path fill="#e8fbfd" d="M472.91 408.10 L474.07 408.14 L474.82 407.78 L475.49 407.34 L476.10 406.84 L476.67 406.29 L477.21 405.71 L477.73 405.13 L478.26 404.54 L478.77 403.95 L479.29 403.35 L479.80 402.75 L480.31 402.15 L480.81 401.54 L481.32 400.93 L481.82 400.32 L482.32 399.71 L482.82 399.10 L483.31 398.48 L483.81 397.86 L484.30 397.24 L484.79 396.62 L485.28 396.00 L485.76 395.38 L486.25 394.75 L486.15 394.65 L485.53 395.14 L484.91 395.63 L484.29 396.13 L483.67 396.62 L483.06 397.12 L482.44 397.62 L481.83 398.12 L481.22 398.62 L480.61 399.12 L480.01 399.63 L479.40 400.14 L478.80 400.65 L478.20 401.16 L477.60 401.68 L477.01 402.20 L476.42 402.72 L475.84 403.25 L475.26 403.78 L474.69 404.32 L474.14 404.89 L473.65 405.51 L473.21 406.18 L472.86 406.94 L472.91 408.10 Z"/>
<path fill="#e5fbfe" d="M0 0 V116 A29 29 0 0 0 20 75 C50 65 100 52 125 46 C140 40 160 30 172.5 19.5 A57.2 57.2 0 0 0 245.5 14 A31.6 31.6 0 0 0 293 20 A75 75 0 0 0 383 20 A40.3 40.3 0 0 0 437.6 13.7 A73.4 73.4 0 0 0 521.7 18.9 C540 30 555 36 567.5 38.2 C590 42 610 42 625.5 40.6 C640 40 665 60 677.5 79.8 L694.3 79.8 C697 85 697 92 697.3 95.6 C700 104 710 112 720 117.3 V0 Z"/>
<path fill="#ffffff" d="M0 0 V67 L9 66 C30 57 80 43 112.5 31 C130 25 150 15 163.75 3.75 A63.6 63.6 0 0 0 240.5 0.5 A33.5 33.5 0 0 0 290.5 4.7 A74.1 74.1 0 0 0 383 5 A43.3 43.3 0 0 0 442.2 1.5 A87.4 87.4 0 0 0 529.3 4.6 A125 125 0 0 0 638.5 25.7 C645 48 672 66 706 67.5 L712 67 L720 66 V0 Z"/>
<circle fill="#ffffff" cx="-20" cy="80" r="28"/>
<circle fill="#ffffff" cx="728.2" cy="81.5" r="18.4"/>
<rect x="0" y="0" width="720" height="1" fill="#ebf5f7"/><rect x="0" y="0" width="1" height="62" fill="#000" fill-opacity="0.025"/><rect x="719" y="0" width="1" height="60" fill="#000" fill-opacity="0.025"/>
<g transform="translate(71.15 67.85) rotate(-9.6)">
  <path fill="#223d70" d="M-62 0 Q-45 1 -27.5 10 Q-31 9.5 -35 12.5 Q-48 5 -62 0 Z"/>
  <path fill="#223d70" d="M-27.5 10 Q0 -11 27.5 10 Q20 1 14.2 2.9 Q5 4 0.3 11.3 Q-5 3 -13.1 3.9 Q-22 4 -27.5 10 Z"/>
  <path fill="#223d70" d="M27.5 10 Q45 1 62 0 Q48 5 35 12.5 Q31 9.5 27.5 10 Z"/>
</g>
<line x1="70.7" y1="66.5" x2="80.4" y2="119.3" stroke="#ffffff" stroke-width="1.7"/>
<path d="M80.4 119 C80.8 125 82 130 86 132.5 C90 134.5 95 132 96.5 128 C97.3 125.5 97.3 123 97.2 120.3" fill="none" stroke="#223d70" stroke-width="2.1" stroke-linecap="round"/>
<g transform="translate(71.15 67.85) rotate(-9.6)">
  <clipPath id="domeclip"><path d="M-62 0 C-58 -28 -32 -48 0 -48 C32 -48 58 -28 62 0 Q45 1 27.5 10 Q0 -11 -27.5 10 Q-45 1 -62 0 Z"/></clipPath>
  <g clip-path="url(#domeclip)">
    <rect x="-70" y="-60" width="140" height="80" fill="#ebb030"/>
    <path fill="#e27b1f" d="M-1 -49 C-20 -40 -26 -15 -27.5 12 L27.5 12 C26 -15 20 -40 1 -49 Z"/>
    <path fill="#000" fill-opacity="0.14" d="M-80 -36 L-48 -32 L-25.3 -11.1 Q0 -3 28.6 -2.5 L39.8 -2.3 L56 -11 L80 -12 L80 30 L-80 30 Z"/>
    <path fill="#fff" fill-opacity="0.12" d="M-30 -60 L-20 -45 C-12 -30 -5 -23 5 -22.5 C25 -22 40 -22 56 -16 L70 -16 L70 -60 Z"/>
  </g>
</g>
<mask id="rbmask"><ellipse cx="637" cy="89" rx="42.2" ry="46.6" fill="#fff"/><ellipse cx="637" cy="89" rx="23.4" ry="19.7" fill="#000"/><rect x="580" y="90" width="120" height="60" fill="#000"/></mask>
<g mask="url(#rbmask)">
  <ellipse cx="637" cy="89" rx="42.2" ry="46.6" fill="#e6a92b"/>
  <ellipse cx="637" cy="89" rx="37.6" ry="42" fill="#e5862a"/>
  <path fill="#000" fill-opacity="0.12" d="M590 50 L604.3 62.8 L616.3 71.1 L616 95 L590 95 Z"/>
  <ellipse cx="637" cy="89" rx="33.2" ry="36" fill="#b48fe4"/>
  <path fill="#000" fill-opacity="0.11" d="M690 40 L657 46 L654.5 60 L657 95 L690 95 Z"/>
  <ellipse cx="637" cy="89" rx="29" ry="29.9" fill="#8b77c9"/>
  <ellipse cx="637" cy="89" rx="25.8" ry="25.3" fill="#223461"/>
</g>
<path fill="#fff" d="M620 53.7 L620.8 56.4 L623.5 57.2 L620.8 58 L620 60.7 L619.2 58 L616.5 57.2 L619.2 56.4 Z"/>
<path fill="#fff" d="M631 62.2 L631.4 63.3 L632.5 63.7 L631.4 64.1 L631 65.2 L630.6 64.1 L629.5 63.7 L630.6 63.3 Z"/>
<g fill="#e6f7fb"><circle cx="582.2" cy="87.2" r="8.4"/><circle cx="592.2" cy="84.4" r="6.5"/><circle cx="595.0" cy="96.0" r="8.5"/><circle cx="607.8" cy="83.4" r="10.4"/><circle cx="610.0" cy="96.5" r="7.6"/><circle cx="621.1" cy="90.0" r="6.6"/><circle cx="600.0" cy="90.0" r="8.0"/><circle cx="652.6" cy="90.6" r="6.6"/><circle cx="666.1" cy="84.0" r="10.5"/><circle cx="661.1" cy="95.6" r="8.3"/><circle cx="676.7" cy="97.2" r="9.5"/><circle cx="690.0" cy="89.4" r="8.0"/><circle cx="681.1" cy="87.2" r="7.5"/><circle cx="672.0" cy="92.0" r="8.0"/></g>
<g fill="#ffffff"><circle cx="582.4" cy="88.0" r="8.2"/><circle cx="592.4" cy="85.2" r="6.3"/><circle cx="595.2" cy="96.8" r="8.3"/><circle cx="608.0" cy="84.2" r="10.2"/><circle cx="610.2" cy="97.3" r="7.4"/><circle cx="621.3" cy="90.8" r="6.4"/><circle cx="600.2" cy="90.8" r="7.8"/><circle cx="652.8" cy="91.4" r="6.4"/><circle cx="666.3" cy="84.8" r="10.3"/><circle cx="661.3" cy="96.4" r="8.1"/><circle cx="676.9" cy="98.0" r="9.3"/><circle cx="690.2" cy="90.2" r="7.8"/><circle cx="681.3" cy="88.0" r="7.3"/><circle cx="672.2" cy="92.8" r="7.8"/></g>
<!-- right (back) boot -->
<path fill="#b595e8" d="M64.2 308 C62.5 322 61 336 59.5 350 L62 362 L90 381 L113.5 381 C114 375 113 370 110 367 C105 363 98 361 94 358 C92 354 92.2 348 92.8 344 C94.5 333 97.5 322 99.4 313 Z"/>
<path fill="#9d80d4" d="M64.2 308 C62.5 322 61 336 59.5 350 L64 360 L70 362 C67 350 67.5 338 69 326 C70 318 71 313 72.5 309.5 Z"/>
<path fill="#c2a5f2" d="M93 312 C91.5 322 89.5 332 88.2 343 C88 350 89 356 94 360 L96 360 C93 356 92.2 350 92.6 344 C93.5 334 95.5 323 97 313 Z" fill-opacity="0.7"/>
<ellipse cx="81.8" cy="310" rx="17.8" ry="3.4" transform="rotate(9.5 81.8 310)" fill="#8c79c9"/>
<path fill="#24396a" d="M90 379.5 L113 383.3 L113 387 L90 383 Z"/>
<path d="M59.6 337.5 C64 337.5 65.5 340 66 345 C66.5 352 70 356 75.5 356 C81 356 83.5 352 84.5 347 C85.5 343 88 342 92.5 342.5" fill="none" stroke="#24396a" stroke-width="1.2"/>
<!-- left (front) boot -->
<path fill="#b595e8" d="M23.5 321 C24 335 25.5 360 27.5 388 L90.5 382.5 C91.5 377 90 372 86.5 370 C79 367 68 363 62 358 C59.3 355 58.5 351 58.4 346 L58.4 320.5 Z"/>
<path fill="#9d80d4" d="M23.5 321 C24 335 25.5 360 27.5 388 L45 386.5 C40 380 36 370 34 355 C33 345 32.5 332 33 321 Z"/>
<path fill="#c3a6f2" d="M44 323 C46 335 47 350 51 360 C55 368 63 372 75 375 L80 375 C70 371 62 366 58.5 358 C56 348 53 335 51 322 Z" fill-opacity="0.6"/>
<ellipse cx="41" cy="320.8" rx="17.5" ry="3.3" fill="#8c79c9"/>
<path fill="#24396a" d="M27.6 388 L90.5 382.3 L90.5 386.2 L47.4 390.2 L47.2 388.6 L44.4 388.8 L44.4 391.7 L27.8 393 Z"/>
<path d="M24.3 353.3 C29.5 353 33 355 34 360 C35 366 38 369 42 369 C47 369 50 366 50.5 360 C51 354 53.5 350 58.4 350" fill="none" stroke="#24396a" stroke-width="1.2"/>
<clipPath id="u2clip"><path d="M348.33 324.98 Q369.82 351.11 400.55 336.94 Q397.27 370.62 429.02 382.33 Q402.89 403.82 417.06 434.55 Q383.38 431.27 371.67 463.02 Q350.18 436.89 319.45 451.06 Q322.73 417.38 290.98 405.67 Q317.11 384.18 302.94 353.45 Q336.62 356.73 348.33 324.98 Z"/></clipPath>
<g clip-path="url(#u2clip)">
<circle cx="360" cy="394" r="90" fill="#ebb030"/>
<path fill="#e47f1f" d="M360 394 L344.99 305.26 L384.56 286.78 L412.14 320.64 Z"/>
<path fill="#e47f1f" d="M360 394 L448.74 378.99 L467.22 418.56 L433.36 446.14 Z"/>
<path fill="#e47f1f" d="M360 394 L375.01 482.74 L335.44 501.22 L307.86 467.36 Z"/>
<path fill="#e47f1f" d="M360 394 L271.26 409.01 L252.78 369.44 L286.64 341.86 Z"/>
<circle cx="335" cy="330" r="43" fill="#fff" fill-opacity="0.13"/>
<circle cx="444" cy="404" r="40" fill="#000" fill-opacity="0.07"/>
</g>
<circle cx="348.33" cy="324.98" r="1.7" fill="#223d70"/>
<circle cx="400.55" cy="336.94" r="1.7" fill="#223d70"/>
<circle cx="429.02" cy="382.33" r="1.7" fill="#223d70"/>
<circle cx="417.06" cy="434.55" r="1.7" fill="#223d70"/>
<circle cx="371.67" cy="463.02" r="1.7" fill="#223d70"/>
<circle cx="319.45" cy="451.06" r="1.7" fill="#223d70"/>
<circle cx="290.98" cy="405.67" r="1.7" fill="#223d70"/>
<circle cx="302.94" cy="353.45" r="1.7" fill="#223d70"/>
<circle cx="360" cy="394" r="3.9" fill="#223d70"/>
<!-- legs -->
<path fill="#243a6d" d="M663.5 362 L680.8 362 C681.8 375 682.4 388 682.6 399.8 L676.5 400 C673 390 668 378 663.5 366 Z"/>
<path fill="#b0703a" d="M676.3 398.8 L682.5 398.6 L682.7 401.8 L676.8 402 Z"/>
<path fill="#243a6d" d="M673.5 401.6 L682.7 401.6 L683 405 L671.5 405 Z"/>
<path fill="#243a6d" d="M641.1 345.4 C641 350 641.5 352 642.8 354.5 C645.5 359.5 649 364 652.3 367.9 C654 370 655.5 372 656.6 374 L661.2 373.8 C661.2 372 661.1 371 661 369.6 C658 363.5 655 358 652.3 352.3 C650.5 348.5 649.5 344.5 648 341.1 C645 341.5 642.5 343 641.1 345.4 Z"/>
<path fill="#b0703a" d="M655.8 373.2 L661.2 373 L661.6 376.2 L656.6 376.6 Z"/>
<path fill="#243a6d" d="M652.3 380.8 C653.5 378.5 655 376.8 656.3 376.2 L661.8 376.2 L662.2 378.4 Z"/>
<!-- back hand -->
<g fill="#9c6035">
<ellipse cx="697" cy="295.8" rx="4" ry="3.4"/>
<path d="M698.5 293.5 L702.5 288.8 L704 289.8 L700.8 294.5 Z"/>
<path d="M700 296 L706.5 295.8 L706.5 297.4 L700 298.2 Z"/>
<path d="M700 294 L705.8 292.2 L706.3 293.7 L700.6 296 Z"/>
</g>
<!-- back sleeve -->
<path fill="#8e82d0" d="M666 293.6 L692.1 290.1 L694.4 290.8 L694.6 304.3 L668 301.8 Z"/>
<!-- front hand -->
<g fill="#9c6035">
<ellipse cx="703" cy="313.8" rx="4" ry="3.6"/>
<path d="M704 312 L710.2 311.2 L710.6 312.8 L704.5 314.2 Z"/>
<path d="M704 315 L709.3 319 L708.3 320.6 L703 317.2 Z"/>
<path d="M702 316 L704.2 321.2 L702.6 321.8 L700.4 317.2 Z"/>
</g>
<!-- coat -->
<path fill="#b898e9" d="M642 298.5 L651.9 297.7 L660.5 299.3 L699 307.8 L701.3 308 L701.3 320.7 C702 326 703.5 330 705.2 333.7 C707 337 709 340 710.4 342.8 C711.5 345 712.5 347 713 349.3 C707 353 701 356.5 694.8 359.6 C690 362 686 364 681.9 364.8 C676 366 670 367.2 663.7 367.4 C659 367.4 655.5 367.2 652.3 367 C651 362 650.2 357 649.6 352 C648.6 346 647.4 339 646.6 333 C646 326 645.8 317 646.1 310.4 C646.3 306 645 302 642 298.5 Z"/>
<path fill="#a389d9" d="M649 347 C658 352 670 355.5 680 357.5 C686 358.5 691 359 694.8 359.6 C690 362 686 364 681.9 364.8 C676 366 670 367.2 663.7 367.4 C659 367.4 655.5 367.2 652.3 367 C651 362 650.2 357 649.6 352 Z"/>
<path d="M655 361 C675 360.5 698 356 711.7 350.6" fill="none" stroke="#24396a" stroke-width="0.9"/>
<path d="M661.1 315.6 C672 319 684 322.5 693.5 324.6" fill="none" stroke="#24396a" stroke-width="0.9"/>
<path d="M660.8 299.2 C673 302 688 305 699.5 307.8" fill="none" stroke="#24396a" stroke-width="0.9"/>
<!-- hood -->
<path fill="#b898e9" d="M645 251 C655 250 666 256 672 262 C678 268 682.5 273 682.5 279 C682.5 285 679 289 674 290.5 C665 293 655 297 642 299 L640 290 Z"/>
<path d="M651.9 297.7 C658 296 664 293 668.9 290.3" fill="none" stroke="#24396a" stroke-width="0.8"/>
<!-- hair -->
<path fill="#111018" d="M624.4 273.2 C624 266 625.5 262 627.4 259.9 C629 255 632 252.5 634.8 251.7 C638 250.3 641 249.8 643.7 250.2 C646.5 250.7 648.5 252 649.7 253.9 C651 257 651.5 260 652.6 262.8 C655 266 658 268 660 270.2 C662.5 273 664.5 275 664.5 277.7 C664.8 280 664.5 282 663.7 283.6 C662 286 660 287.5 657.8 288.8 C655 290 652 290.8 648.9 291 Z"/>
<!-- face -->
<path fill="#9c6035" d="M628.9 263.6 C632 263.5 634.5 263.8 636.3 264.3 C639 266 640.5 269 642.2 271.7 C645 273.5 647.5 274.7 649.7 275.4 C652 276.3 654 277 655.6 277.7 L660.8 285.1 C659.5 287 658.5 288.5 657.1 289.5 C655 292 653 293.8 651.1 295.5 C649.5 297.5 648 299 646.7 299.9 C644.5 301 642.5 301.6 640.8 301.4 C638 301 635.5 300.3 633.3 299.2 C631.5 298 630.3 296.8 629.6 295.5 C629 294 628.8 292.5 628.9 291 C628 290.5 627.5 289.5 628.2 288.8 C628.5 286.5 628.9 284.5 628.9 282.1 C628.5 279.5 628.1 277 628.2 274.7 C628.3 270.5 628.5 266.5 628.9 263.6 Z"/>
<circle cx="660" cy="281.2" r="3.3" fill="#9c6035"/>
<path fill="#111018" d="M624.6 270 C624 276 625 281 627.2 285.5 L628.4 284.6 C627.6 280 627.5 276 628.4 271 Z"/>
<ellipse cx="634.1" cy="283.6" rx="1" ry="1.3" fill="#243a6d"/>
<path d="M632.6 277.7 C635.5 277.5 638.5 278.3 640 279.9" fill="none" stroke="#243a6d" stroke-width="0.8"/>
<path fill="#ffffff" d="M631.1 293.2 L638.5 292.5 C637.5 294.8 635 295.8 632.5 295 Z"/>
<g opacity="0.999"><text x="181.40" y="161.10" textLength="77.03" font-family="Liberation Sans" font-weight="bold" font-size="43" fill="#23406e" stroke="#23406e" stroke-width="3.2" stroke-linejoin="round" paint-order="stroke" text-anchor="middle" lengthAdjust="spacingAndGlyphs"><tspan font-size="41.5">I</tspan>t's</text>
<text x="322.65" y="161.10" textLength="183.37" font-family="Liberation Sans" font-weight="bold" font-size="43" fill="#23406e" stroke="#23406e" stroke-width="3.2" stroke-linejoin="round" paint-order="stroke" text-anchor="middle" lengthAdjust="spacingAndGlyphs"><tspan font-size="41.5">R</tspan>aining</text>
<text x="498.02" y="161.10" textLength="143.67" font-family="Liberation Sans" font-weight="bold" font-size="43" fill="#23406e" stroke="#23406e" stroke-width="3.2" stroke-linejoin="round" paint-order="stroke" text-anchor="middle" lengthAdjust="spacingAndGlyphs"><tspan font-size="41.5">S</tspan>tats:</text>
<text x="172.76" y="214.80" textLength="231.47" font-family="Liberation Sans" font-weight="bold" font-size="43" fill="#23406e" stroke="#23406e" stroke-width="3.2" stroke-linejoin="round" paint-order="stroke" text-anchor="middle" lengthAdjust="spacingAndGlyphs"><tspan font-size="41.5">A</tspan>ctivities</text>
<text x="341.04" y="214.80" textLength="78.88" font-family="Liberation Sans" font-weight="bold" font-size="43" fill="#23406e" stroke="#23406e" stroke-width="3.2" stroke-linejoin="round" paint-order="stroke" text-anchor="middle" lengthAdjust="spacingAndGlyphs">for</text>
<text x="524.90" y="214.80" textLength="260.92" font-family="Liberation Sans" font-weight="bold" font-size="43" fill="#23406e" stroke="#23406e" stroke-width="3.2" stroke-linejoin="round" paint-order="stroke" text-anchor="middle" lengthAdjust="spacingAndGlyphs"><tspan font-size="41.5">S</tspan>imulation</text>
<text x="231.65" y="269.10" textLength="88.13" font-family="Liberation Sans" font-weight="bold" font-size="43" fill="#23406e" stroke="#23406e" stroke-width="3.2" stroke-linejoin="round" paint-order="stroke" text-anchor="middle" lengthAdjust="spacingAndGlyphs">and</text>
<text x="405.52" y="269.10" textLength="238.63" font-family="Liberation Sans" font-weight="bold" font-size="43" fill="#23406e" stroke="#23406e" stroke-width="3.2" stroke-linejoin="round" paint-order="stroke" text-anchor="middle" lengthAdjust="spacingAndGlyphs"><tspan font-size="41.5">I</tspan>nference</text>
<text x="359.6" y="310.5" text-anchor="middle" font-family="Liberation Sans" font-size="16.5" fill="#23406e" textLength="80" lengthAdjust="spacingAndGlyphs">MCTM 2026</text>
</g></svg>
</body></html>
